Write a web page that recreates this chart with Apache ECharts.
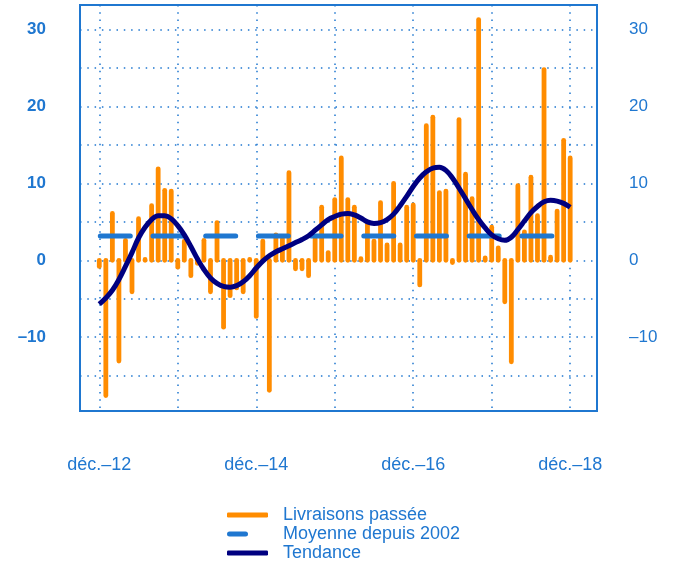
<!DOCTYPE html>
<html>
<head>
<meta charset="utf-8">
<script src="https://cdn.jsdelivr.net/npm/echarts@6/dist/echarts.min.js"></script>
<style>
  html, body { margin: 0; padding: 0; background: #fff; }
  #chart { width: 678px; height: 563px; }
</style>
</head>
<body>
<div id="chart"></div>
<script>
// mois : 0 = déc.-12 ... 72 = déc.-18
const livraisons = [
  -0.8, -17.6, 6.1, -13.1, 2.6, -4.1, 5.4, 0.1, 7.1, 11.9, 9.1, 9.0,
  -0.9, 2.5, -2.0, -0.4, 2.6, -4.1, 4.9, -8.7, -4.6, -3.6, -4.1, 0.1,
  -7.3, 2.5, -16.9, 3.3, 2.8, 11.4, -1.1, -1.1, -2.0, 2.8, 6.9, 1.0,
  7.9, 13.3, 7.9, 6.9, 0.2, 4.7, 2.5, 7.5, 2.0, 10.0, 2.0, 6.9,
  7.2, -3.2, 17.5, 18.6, 8.8, 9.0, -0.3, 18.3, 11.2, 8.0, 31.3, 0.3,
  4.3, 1.6, -5.4, -13.2, 9.7, 3.7, 10.8, 5.8, 24.8, 0.4, 6.4, 15.6,
  13.3
];
const tendance = [
  -5.7, -4.9, -3.9, -2.5, -0.8, 1.0, 2.9, 4.3, 5.3, 5.8, 5.8, 5.4,
  4.5, 3.3, 1.8, 0.2, -1.2, -2.3, -3.0, -3.4, -3.5, -3.3, -2.8, -2.0,
  -1.0, -0.1, 0.6, 1.1, 1.5, 1.9, 2.3, 2.7, 3.2, 3.9, 4.6, 5.3,
  5.7, 6.0, 6.1, 5.9, 5.5, 5.0, 4.8, 4.9, 5.3, 6.0, 7.1, 8.3,
  9.6, 10.7, 11.5, 12.0, 12.1, 11.7, 10.7, 9.4, 8.0, 6.6, 5.3, 4.2,
  3.3, 2.8, 2.6, 3.0, 4.0, 5.1, 6.2, 7.0, 7.6, 7.8, 7.7, 7.4,
  6.9
];
const moyenne = 3.15;
const gridTicksX = [0, 12, 24, 36, 48, 60, 72];
const labelTicksX = [0, 24, 48, 72];
const gridTicksY = [-15, -10, -5, 0, 5, 10, 15, 20, 25, 30];
const labelTicksY = [-10, 0, 10, 20, 30];

const blue = '#1f77d0';
const orange = '#ff8c00';
const navy = '#000080';

const chart = echarts.init(document.getElementById('chart'));

const dotted = { color: blue, width: 1.5, type: [1.5, 5.8] };
const fmtY = v => String(v).replace('-', '\u2013');

const yBase = {
  type: 'value', min: -19.6, max: 33.2,
  axisLine: { show: false },
  axisTick: { show: false, customValues: gridTicksY }
};

chart.setOption({
  animation: false,
  grid: { left: 80, right: 81, top: 5, bottom: 152, show: true, borderColor: blue, borderWidth: 2 },
  xAxis: {
    type: 'value', min: -2.95, max: 76.1,
    axisLine: { show: false },
    axisTick: { show: false, customValues: gridTicksX },
    splitLine: { show: true, lineStyle: dotted },
    axisLabel: {
      customValues: labelTicksX, margin: 45,
      color: blue, fontSize: 18, fontFamily: 'Liberation Sans',
      formatter: v => 'déc.\u2013' + (12 + v / 12)
    }
  },
  yAxis: [
    Object.assign({}, yBase, {
      position: 'left',
      splitLine: { show: true, lineStyle: dotted },
      axisLabel: { customValues: labelTicksY, margin: 34, color: blue, fontSize: 17,
        fontWeight: 'bold', fontFamily: 'Liberation Sans', formatter: fmtY }
    }),
    Object.assign({}, yBase, {
      position: 'right',
      splitLine: { show: false },
      axisLabel: { customValues: labelTicksY, margin: 32, color: blue, fontSize: 17,
        fontFamily: 'Liberation Sans', formatter: fmtY }
    })
  ],
  legend: {
    orient: 'vertical', left: 222, top: 501, height: 120, itemGap: 1,
    itemWidth: 41, itemHeight: 5,
    textStyle: { color: blue, fontSize: 18, lineHeight: 18, fontFamily: 'Liberation Sans', padding: [0, 0, 0, 10] },
    data: [
      { name: 'Livraisons passée', icon: 'roundRect', itemStyle: { color: orange } },
      { name: 'Moyenne depuis 2002', icon: 'path://M2.5,0 L18.5,0 Q21,0 21,2.5 Q21,5 18.5,5 L2.5,5 Q0,5 0,2.5 Q0,0 2.5,0 Z M41,5 L41,5', itemStyle: { color: blue } },
      { name: 'Tendance', icon: 'roundRect', itemStyle: { color: navy } }
    ]
  },
  series: [
    {
      name: 'Livraisons passée', type: 'custom',
      itemStyle: { color: orange },
      data: livraisons.map((v, i) => [i, v]),
      renderItem: (params, api) => {
        const a = api.coord([api.value(0), 0]);
        const b = api.coord([api.value(0), api.value(1)]);
        return {
          type: 'line',
          shape: { x1: a[0], y1: a[1], x2: b[0], y2: b[1] },
          style: { stroke: orange, lineWidth: 4.8, lineCap: 'round' }
        };
      }
    },
    {
      name: 'Moyenne depuis 2002', type: 'line', showSymbol: false,
      itemStyle: { color: blue },
      lineStyle: { color: blue, width: 5, type: [30, 22.7], cap: 'round', dashOffset: -1 },
      data: [[0, moyenne], [72, moyenne]]
    },
    {
      name: 'Tendance', type: 'line', smooth: 0.4, showSymbol: false,
      itemStyle: { color: navy },
      lineStyle: { color: navy, width: 5 },
      data: tendance.map((v, i) => [i, v])
    }
  ]
});
</script>
</body>
</html>
